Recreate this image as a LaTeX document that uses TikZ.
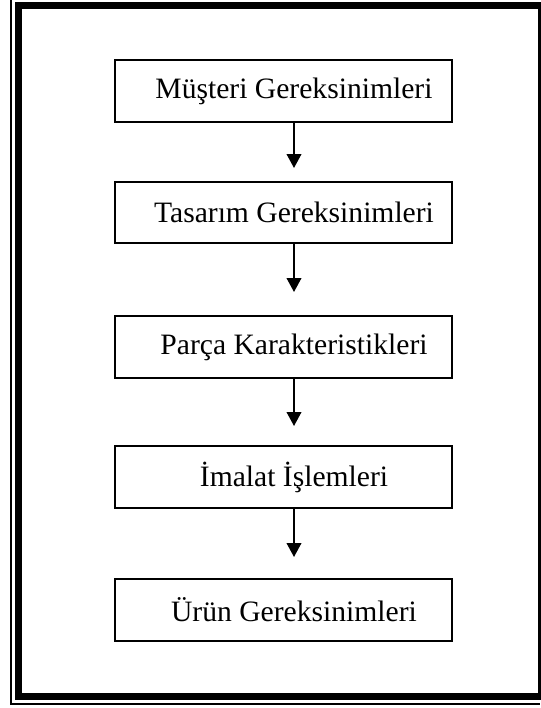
\documentclass[tikz,border=0pt]{standalone}
\usepackage{fontspec}
\setmainfont{Liberation Serif}
\usetikzlibrary{arrows.meta}
\begin{document}
\begin{tikzpicture}[x=0.75pt,y=-0.75pt,
  stagebox/.style={draw,line width=1.5pt,minimum width=252.75pt,minimum height=46pt,
    inner sep=0pt,font=\fontsize{22.2}{26}\selectfont,
    execute at begin node={\hspace*{15.75pt}}},
  flow/.style={line width=1.3pt,-{Triangle[width=11pt,length=10.5pt]}}]
\useasboundingbox (0,0) rectangle (540,708);
% page border: thick frame with a thin outer rule on the left and bottom
\draw[line width=5.25pt] (18.5,5.5) -- (541.5,5.5) -- (541.5,696.5) -- (18.5,696.5) -- cycle;
\draw[line width=1.5pt] (11,0) -- (11,704) -- (540,704);
% process stages
\node[stagebox] (m) at (283.5,91) {Müşteri Gereksinimleri};
\node[stagebox] (t) at (283.5,212.5) {Tasarım Gereksinimleri};
\node[stagebox] (p) at (283.5,347) {Parça Karakteristikleri};
\node[stagebox] (i) at (283.5,477) {İmalat İşlemleri};
\node[stagebox] (u) at (283.5,610) {Ürün Gereksinimleri};
% arrow tips stop short of the next stage
\coordinate (a1) at (294,168);
\coordinate (a2) at (294,292);
\coordinate (a3) at (294,426);
\coordinate (a4) at (294,557);
\draw[flow] (m.south -| a1) -- (a1);
\draw[flow] (t.south -| a2) -- (a2);
\draw[flow] (p.south -| a3) -- (a3);
\draw[flow] (i.south -| a4) -- (a4);
\end{tikzpicture}
\end{document}
